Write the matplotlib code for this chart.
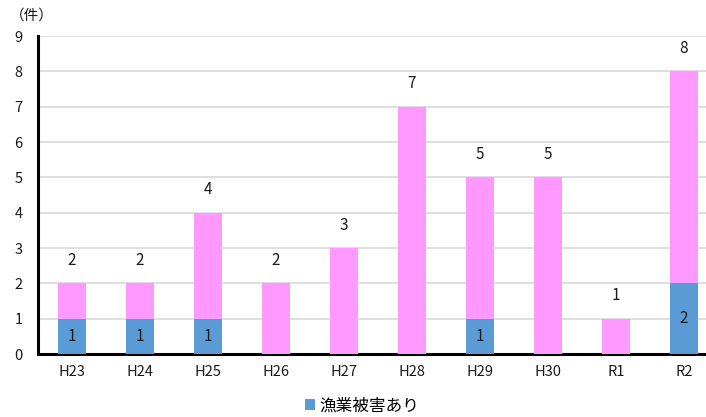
import matplotlib
matplotlib.use('Agg')
import matplotlib.pyplot as plt
import numpy as np

plt.rcParams['font.family'] = ['Noto Sans CJK JP', 'DejaVu Sans']

years = ['H23', 'H24', 'H25', 'H26', 'H27', 'H28', 'H29', 'H30', 'R1', 'R2']
damage = [1, 1, 1, 0, 0, 0, 1, 0, 0, 2]
totals = [2, 2, 4, 2, 3, 7, 5, 5, 1, 8]
other = [t - d for t, d in zip(totals, damage)]

blue = '#5B9BD5'
pink = '#FF99FF'

fig = plt.figure(figsize=(7.06, 4.17), dpi=100)
W, H = 706, 417
ax = fig.add_axes([38 / W, (H - 354) / H, (718 - 38) / W, 318 / H])

x = np.arange(len(years))
ax.bar(x, damage, width=0.4, color=blue, label='漁業被害あり', zorder=3)
ax.bar(x, other, width=0.4, bottom=damage, color=pink, zorder=3)

for i in x:
    if damage[i] > 0:
        ax.text(i, damage[i] / 2, str(damage[i]), ha='center', va='center',
                fontsize=11, color='#1a1a1a', zorder=4)
    ax.text(i, totals[i] + 0.65, str(totals[i]), ha='center', va='center',
            fontsize=11, color='#1a1a1a', zorder=4)

ax.set_xlim(-0.5, 9.5)
ax.set_ylim(0, 9)
ax.set_yticks(range(10))
ax.set_xticks(x)
ax.set_xticklabels(years)
ax.tick_params(axis='both', length=0, labelsize=10.5, colors='#1a1a1a')
ax.tick_params(axis='x', pad=8)
ax.tick_params(axis='y', pad=11)
ax.grid(axis='y', color='#D9D9D9', linewidth=1.2, zorder=0)

for s in ['top', 'right']:
    ax.spines[s].set_visible(False)
ax.spines['left'].set_linewidth(2.2)
ax.spines['bottom'].set_linewidth(2.2)
ax.spines['left'].set_color('black')
ax.spines['bottom'].set_color('black')

fig.text(10 / W, 1 - 16 / H, '（件）', fontsize=10.5, va='center', ha='left', color='#1a1a1a')

fig.legend(loc='center', bbox_to_anchor=(362 / W, 1 - 406 / H), frameon=False,
           fontsize=12, handlelength=0.6, handleheight=0.6, handletextpad=0.3)

fig.savefig('out.png', dpi=100)
